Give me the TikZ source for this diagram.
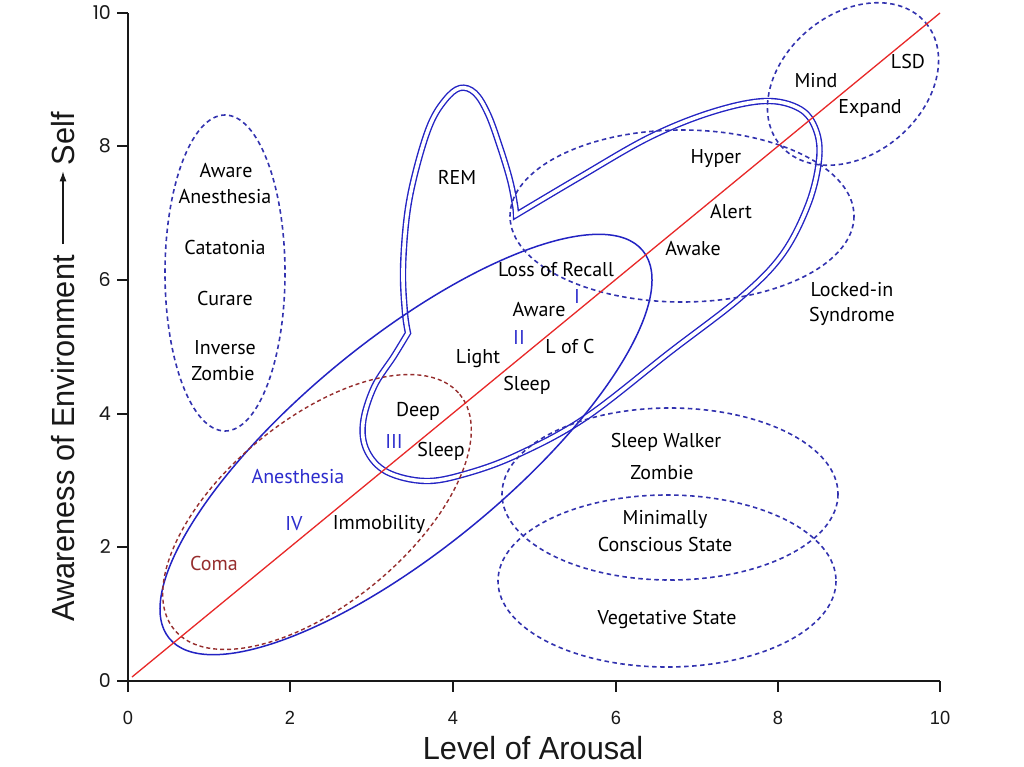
\documentclass[tikz,border=0pt]{standalone}
\usepackage{fontspec}
\setmainfont{PT Sans}
\newfontfamily\axfont[FakeStretch=0.96]{Liberation Sans}
\newfontfamily\yfont{Poppins}
\usetikzlibrary{arrows.meta}
\definecolor{lineblue}{RGB}{35,35,195}
\definecolor{dashblue}{RGB}{50,50,175}
\definecolor{txtblue}{RGB}{45,45,205}
\definecolor{comared}{RGB}{150,45,45}
\definecolor{redline}{RGB}{232,40,40}
\definecolor{axisgray}{RGB}{25,25,25}
\begin{document}
\begin{tikzpicture}[x=1pt,y=-1pt,
  lab/.style={font=\fontsize{20}{22}\selectfont, text=black, inner sep=0pt},
  roman/.style={lab, text=txtblue},
  dashell/.style={draw=dashblue, line width=1.6pt, dash pattern=on 4.5pt off 3.5pt},
  comaell/.style={draw=comared, line width=1.4pt, dash pattern=on 4pt off 3pt},
  solidell/.style={draw=lineblue, line width=1.5pt},
  band/.style={draw=lineblue, line width=1.4pt, double=white, double distance=3.6pt, line join=miter},
  axis/.style={draw=axisgray, line width=1.5pt},
  ticklab/.style={font=\axfont\fontsize{19}{21}\selectfont, text=axisgray, inner sep=0pt},
  yticklab/.style={font=\yfont\fontsize{19}{21}\selectfont, text=axisgray, inner sep=0pt},
  axtitle/.style={font=\axfont\fontsize{32}{34}\selectfont, text=axisgray, inner sep=2pt},
  diag/.style={draw=redline, line width=1.3pt}
]
\useasboundingbox (0,0) rectangle (1024,767);
\fill[white] (0,0) rectangle (1024,767);

% double-lined band (REM + awake loop + deep sleep)
\draw[band] plot[smooth, tension=0.6] coordinates {(516,215) (580,177) (650,137) (712,112) (765,101) (800,109) (816,130) (819,160) (808,205) (782,255) (740,298) (670,352) (585,418) (517,455) (465,474) (425,481) (387,472) (367,451) (363,423) (374,387) (394,356) (408,333)}
  -- plot[smooth, tension=0.6] coordinates {(408,333) (405,313) (403,270) (407,215) (416,170) (430,125) (445,100) (460,88) (475,93) (488,114) (500,147) (510,180) (515,205) (516,215)} -- cycle;

% big single ellipse
\draw[solidell, rotate around={39.3:(406,444.5)}] (406,444.5) ellipse [x radius=306, y radius=105];
% dashed ellipses
\draw[dashell] (225,273) ellipse [x radius=60, y radius=158];
\draw[dashell, rotate around={40:(853,84)}] (853,84) ellipse [x radius=95, y radius=70];
\draw[dashell] (682,216) ellipse [x radius=172, y radius=86];
\draw[dashell] (670,494) ellipse [x radius=168, y radius=86];
\draw[dashell] (667,581) ellipse [x radius=169, y radius=86];
\draw[comaell, rotate around={39.5:(317,512)}] (317,512) ellipse [x radius=185, y radius=92];

% axes
\draw[axis] (117,681) -- (940,681);
\draw[axis] (128,692) -- (128,13);
\foreach \x/\l in {128/0,290/2,453/4,616/6,778/8,940/10}{
  \draw[axis] (\x,681) -- (\x,692);
  \node[ticklab] (xt\l) at (\x,718) {\l};
}
\foreach \y/\l in {681/0,547/2,414/4,280/6,146/8,13/10}{
  \draw[axis] (117,\y) -- (128,\y);
  \node[yticklab, anchor=east] (yt\l) at (111,\y) {\l};
}
\node[axtitle, inner sep=0pt] (xtitle) at (533,748) {Level of Arousal};
\node[axtitle, rotate=90, anchor=west] (ytitle) at (63,624) {Awareness of Environment};
\node[axtitle, rotate=90, anchor=east] (selfl) at (63,110) {Self};
\draw[draw=axisgray, line width=1.3pt, -{Latex[length=10pt,width=7pt]}, shorten <=9pt, shorten >=4pt] (ytitle) -- (selfl);

% diagonal
\coordinate (r0) at (132,677);
\coordinate (r1) at (940,13);
\draw[diag] (r0) -- (r1);

% labels
\node[lab] (rem) at (457,177) {REM};
\node[lab] (lor) at (556,270) {Loss of Recall};
\node[roman] (rI) at (577,296) {I};
\node[lab] (aw1) at (539,310) {Aware};
\node[roman] (rII) at (519,337) {II};
\node[lab] (loc) at (570,346) {L of C};
\node[lab] (light) at (478,359) {Light};
\node[lab] (sl1) at (527,385) {Sleep};
\node[lab] (deep) at (418,411) {Deep};
\node[roman] (rIII) at (394,441) {III};
\node[lab] (sl2) at (441,451) {Sleep};
\node[roman] (anes) at (298,477) {Anesthesia};
\node[roman] (rIV) at (294,524) {IV};
\node[lab] (immo) at (379,524) {Immobility};
\node[lab, text=comared] (coma) at (214,563) {Coma};
\node[lab] (hyper) at (716,159) {Hyper};
\node[lab] (alert) at (731,212) {Alert};
\node[lab] (awake) at (693,249) {Awake};
\node[lab] (lock) at (852,290) {Locked-in};
\node[lab] (synd) at (852,316) {Syndrome};
\node[lab] (mind) at (816,81) {Mind};
\node[lab] (expand) at (870,109) {Expand};
\node[lab] (lsd) at (908,62) {LSD};
\node[lab] (sw) at (666,442) {Sleep Walker};
\node[lab] (zomb) at (662,473) {Zombie};
\node[lab] (mini) at (665,519) {Minimally};
\node[lab] (cons) at (665,544) {Conscious State};
\node[lab] (veg) at (667,619) {Vegetative State};
\node[lab] (l1) at (226,171) {Aware};
\node[lab] (l2) at (225,197) {Anesthesia};
\node[lab] (l3) at (225,247) {Catatonia};
\node[lab] (l4) at (225,298) {Curare};
\node[lab] (l5) at (225,348) {Inverse};
\node[lab] (l6) at (223,374) {Zombie};
\end{tikzpicture}
\end{document}
